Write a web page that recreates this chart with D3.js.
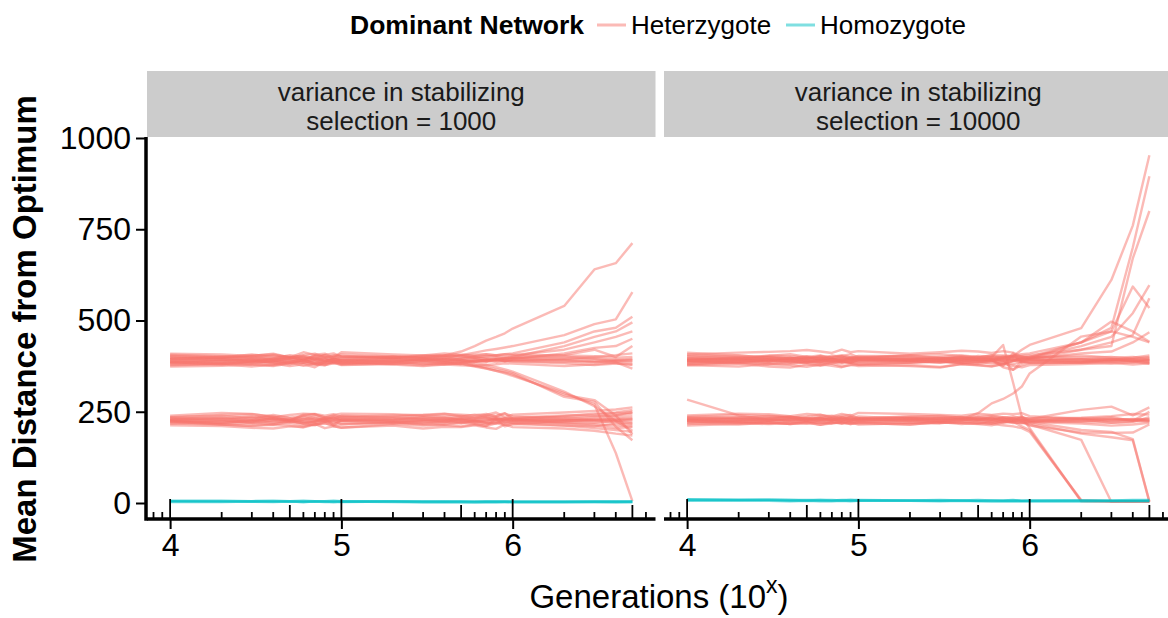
<!DOCTYPE html>
<html>
<head>
<meta charset="utf-8">
<script src="https://cdn.jsdelivr.net/npm/d3@7"></script>
<style>
  html, body { margin: 0; padding: 0; background: #ffffff; }
  svg { display: block; font-family: "Liberation Sans", Arial, Helvetica, sans-serif; }
</style>
</head>
<body>
<svg id="chart" width="1168" height="618"></svg>
<script>
// Sampled generations (x is plotted as log10 of these)
const gens = [10000, 20000, 30000, 40000, 50000, 60000, 70000, 80000, 90000,
              100000, 200000, 300000, 400000, 500000, 600000, 700000, 800000, 900000,
              1000000, 2000000, 3000000, 4000000, 5000000];

const facetLabels = [
  ["variance in stabilizing", "selection = 1000"],
  ["variance in stabilizing", "selection = 10000"]
];
const legendTitle = "Dominant Network";
const seriesNames = ["Heterzygote", "Homozygote"];
const xTicks = [4, 5, 6];
const yTicks = [0, 250, 500, 750, 1000];

// Mean distance from optimum per replicate, variance = 1000
const p1HetUpper = [
  [399,396,402,397,405,400,394,399,404,401,397,402,404,415,430,445,455,465,478,540,640,657,712],
  [383,387,381,389,384,392,386,380,388,393,388,393,398,405,412,418,422,426,430,460,490,503,578],
  [406,402,399,394,399,391,405,401,393,399,402,397,403,405,406,408,404,408,410,440,470,480,510],
  [377,381,386,382,375,380,372,387,383,379,382,377,381,386,390,392,396,396,400,430,455,470,495],
  [394,397,392,389,396,401,393,388,396,390,386,394,396,398,402,400,404,403,405,420,440,455,470],
  [388,384,387,395,390,384,393,398,385,391,395,389,386,390,388,393,391,389,395,410,425,430,450],
  [374,376,379,375,382,385,379,377,386,378,381,386,383,381,386,390,394,398,400,405,420,400,430],
  [409,407,403,409,399,413,406,409,398,413,407,404,410,406,403,407,405,408,406,404,402,398,400],
  [387,393,390,385,393,389,398,390,391,386,394,392,389,393,395,389,392,388,390,392,388,391,390],
  [402,400,404,407,399,404,396,406,410,401,398,405,403,401,399,396,394,390,388,383,378,382,380],
  [383,380,374,379,385,376,381,378,383,386,379,375,379,377,376,378,380,383,382,375,380,385,368],
  [394,399,396,392,398,395,401,389,393,396,399,397,395,388,378,372,366,361,356,291,277,209,172],
  [386,380,388,387,380,392,381,385,390,381,386,382,380,383,376,369,362,355,348,301,270,137,5],
  [396,400,398,404,400,395,402,405,396,403,399,401,400,392,384,378,372,366,360,305,265,225,198],
  [379,383,381,377,387,384,381,383,386,382,388,381,385,381,374,368,362,358,352,296,282,240,188],
  [392,388,395,391,386,397,392,384,401,390,393,389,394,392,388,386,392,396,397,401,395,388,386],
  [398,392,389,396,401,394,390,395,388,392,400,396,391,395,398,394,390,395,392,394,396,392,395],
  [385,389,392,383,387,391,384,389,394,386,383,390,387,384,389,391,386,390,388,386,388,384,378],
  [403,399,407,401,396,405,409,398,403,407,401,399,405,402,398,403,400,396,398,396,400,405,410],
  [390,394,386,391,395,388,384,393,389,384,391,395,390,387,392,388,394,390,393,390,386,389,392]
];
const p1HetLower = [
  [236,239,232,241,234,238,243,235,231,239,236,240,237,239,234,241,248,236,242,248,252,256,262],
  [222,216,220,215,224,218,213,222,226,216,221,217,223,218,225,220,218,228,228,238,245,248,255],
  [228,233,237,232,227,239,233,228,235,238,229,234,230,235,232,237,235,233,232,236,238,240,245],
  [218,215,211,214,212,207,215,219,211,206,216,212,214,210,215,211,218,214,216,224,230,235,238],
  [226,219,224,232,227,223,222,226,230,225,223,228,224,226,225,222,228,227,226,226,228,230,230],
  [239,247,244,235,241,245,243,234,241,245,243,239,244,242,240,244,237,245,238,232,228,226,222],
  [224,215,212,216,219,213,215,218,213,215,221,215,214,220,217,211,230,210,216,212,210,218,215],
  [233,241,243,237,225,242,244,239,243,236,240,242,245,237,242,239,239,246,230,218,212,205,208],
  [227,223,227,228,225,218,222,232,213,228,224,226,228,229,222,227,231,221,220,212,205,200,195],
  [213,211,206,204,210,209,217,205,210,207,212,204,209,208,213,207,203,215,208,204,198,190,185],
  [228,234,224,232,227,234,228,230,234,225,229,235,233,226,229,233,231,228,231,228,226,228,232],
  [224,220,227,220,226,218,224,226,220,228,223,219,218,223,219,216,220,222,224,230,236,240,250],
  [231,227,235,229,223,230,226,233,237,229,232,228,226,232,228,230,226,231,228,226,224,222,218],
  [219,224,221,226,230,224,220,223,218,222,217,223,227,221,224,219,223,218,221,219,216,212,210],
  [234,230,228,236,232,229,237,231,227,233,236,231,234,230,236,234,229,232,234,240,242,246,248],
  [225,228,218,223,221,226,230,224,226,231,227,224,221,229,226,224,233,226,224,222,220,225,228]
];
const p1Homo = [
  [6,6,5,6,5,6,5,5,6,5,5,5,4,5,5,4,5,4,4,4,4,5,4],
  [3,3,4,3,4,3,4,3,3,4,3,2,3,2,2,3,2,3,3,3,3,2,3],
  [5,4,4,4,4,3,4,4,3,3,4,3,3,3,2,3,3,3,2,2,3,3,3]
];

// Mean distance from optimum per replicate, variance = 10000
const p2HetUpper = [
  [393,397,390,395,400,392,396,389,398,394,391,396,393,398,395,399,402,420,433,479,611,760,953],
  [382,387,391,384,388,392,386,390,384,392,388,385,390,387,392,398,404,408,410,440,480,700,895],
  [406,399,403,408,400,404,397,402,408,399,405,408,403,399,405,404,403,403,405,420,430,670,800],
  [377,382,374,371,379,376,382,374,377,379,375,371,381,378,375,380,390,398,400,440,470,593,534],
  [395,392,401,398,394,403,399,402,393,397,404,399,395,403,400,398,399,396,398,430,455,520,597],
  [389,384,380,387,383,378,387,382,385,379,385,387,383,381,387,380,388,393,395,420,440,460,561],
  [407,412,414,416,419,415,411,420,413,416,409,413,417,415,411,416,412,400,396,440,497,470,442],
  [391,396,393,389,385,395,390,388,396,392,391,394,389,394,391,395,390,394,395,410,415,440,468],
  [401,395,404,402,398,396,404,400,397,403,402,396,401,398,404,398,402,398,401,398,400,395,400],
  [380,386,383,380,386,387,382,388,384,381,385,389,383,388,382,386,380,388,383,385,389,394,392],
  [396,392,388,398,390,392,396,388,396,398,391,393,397,390,394,391,397,391,394,388,392,390,386],
  [385,391,393,386,390,383,387,389,383,387,391,389,383,387,390,392,365,388,385,385,390,388,381],
  [412,404,398,394,397,401,393,396,400,395,393,396,398,395,398,392,396,393,397,394,387,385,392],
  [390,387,391,393,387,390,394,386,389,393,391,385,393,391,394,375,410,385,388,392,395,388,396],
  [389,392,387,391,394,389,391,395,392,389,391,395,390,393,400,433,330,236,205,5,4,5,4],
  [392,396,398,394,396,397,393,396,394,397,394,396,399,394,392,372,365,378,384,386,392,398,404],
  [378,374,381,377,373,380,376,372,379,375,378,373,380,377,374,381,376,372,378,381,384,379,383],
  [396,399,393,390,395,398,391,394,390,396,398,392,396,392,389,396,392,390,392,395,393,391,388],
  [386,383,389,392,384,387,392,385,391,386,384,390,387,384,390,385,389,396,390,385,382,386,384],
  [401,404,398,396,402,395,400,405,399,401,397,401,404,400,397,402,399,402,399,404,398,400,396],
  [391,388,394,397,391,386,393,390,387,393,395,390,388,395,392,388,392,385,392,390,394,393,390]
];
const p2HetLower = [
  [283,240,228,231,226,233,227,230,224,229,232,226,230,228,233,226,222,210,200,5,4,5,4],
  [219,215,221,216,220,214,222,217,221,215,219,222,216,220,217,213,210,205,195,8,5,4,5],
  [230,235,232,237,229,234,232,236,231,237,230,233,236,230,234,232,228,222,215,173,3,4,3],
  [226,221,218,223,225,220,224,218,223,221,226,220,222,226,219,224,221,220,218,190,180,172,3],
  [236,241,238,234,237,242,234,239,241,233,236,239,234,238,240,235,232,226,222,200,195,175,4],
  [212,217,221,216,222,214,218,221,216,219,215,222,219,216,213,221,226,236,230,255,264,240,262],
  [229,223,225,230,226,229,231,224,229,225,228,223,231,228,229,227,224,228,225,230,235,225,250],
  [240,245,243,238,244,241,237,244,239,247,244,241,239,245,241,245,243,246,238,230,220,222,235],
  [224,220,216,219,217,222,219,225,219,220,215,222,220,217,223,220,223,218,222,226,226,229,225],
  [231,229,233,236,232,227,234,230,236,230,234,232,230,236,231,227,233,237,222,218,212,215,220],
  [216,224,220,218,224,220,218,221,216,223,220,218,225,220,218,225,219,222,212,193,192,193,215],
  [236,233,239,236,231,236,239,232,236,231,238,236,233,230,236,233,237,231,232,234,238,244,242],
  [226,229,225,228,231,226,227,232,228,230,226,231,229,246,273,285,300,319,355,456,470,455,440],
  [229,233,227,225,230,234,228,226,232,227,231,229,226,233,228,231,226,229,227,229,231,228,230],
  [222,226,230,224,221,227,230,223,226,232,223,227,229,224,226,223,228,225,224,222,220,224,226],
  [233,228,231,234,228,231,225,235,230,228,232,230,234,229,227,235,230,233,230,232,226,230,228],
  [225,222,226,229,234,228,226,229,224,226,229,225,228,231,224,229,231,227,226,224,230,226,223]
];
const p2Homo = [
  [9,8,9,8,7,8,8,7,8,7,7,8,7,8,7,6,7,6,7,7,6,6,6],
  [6,7,6,5,6,5,5,6,5,6,6,5,6,5,4,5,4,5,4,4,5,5,5],
  [10,9,9,8,8,8,7,8,8,8,7,7,7,6,7,7,8,6,6,7,7,8,8]
];

const colHet = "#F8766D";
const colHomo = "#00BFC4";

const svg = d3.select("#chart");

const panelTop = 137, panelBottom = 519;
const panels = [
  { left: 147, right: 655.5, label: facetLabels[0], het: p1HetUpper.concat(p1HetLower), homo: p1Homo },
  { left: 664, right: 1172.5, label: facetLabels[1], het: p2HetUpper.concat(p2HetLower), homo: p2Homo }
];

const logGens = gens.map(g => Math.log10(g));
const [lx0, lx1] = d3.extent(logGens);
const padX = (lx1 - lx0) * 0.05;

const y = d3.scaleLinear().domain([0, 1000]).range([503, 138]);

panels.forEach((p, pi) => {
  const x = d3.scaleLinear().domain([lx0 - padX, lx1 + padX]).range([p.left, p.right]);
  const g = svg.append("g");

  // facet strip
  g.append("rect")
    .attr("x", p.left).attr("y", 71)
    .attr("width", p.right - p.left).attr("height", panelTop - 71)
    .attr("fill", "#cccccc");
  p.label.forEach((t, i) => {
    g.append("text")
      .attr("x", (p.left + p.right) / 2)
      .attr("y", 101 + i * 29)
      .attr("text-anchor", "middle")
      .attr("font-size", 26)
      .attr("fill", "#1a1a1a")
      .text(t);
  });

  const line = d3.line()
    .x((d, i) => x(logGens[i]))
    .y(d => y(d));

  g.append("g").selectAll("path")
    .data(p.het).join("path")
    .attr("d", line)
    .attr("fill", "none")
    .attr("stroke", colHet)
    .attr("stroke-opacity", 0.5)
    .attr("stroke-width", 2.4)
    .attr("stroke-linejoin", "round");

  g.append("g").selectAll("path")
    .data(p.homo).join("path")
    .attr("d", line)
    .attr("fill", "none")
    .attr("stroke", colHomo)
    .attr("stroke-opacity", 0.55)
    .attr("stroke-width", 2.6)
    .attr("stroke-linejoin", "round");

  // log ticks along the bottom edge
  const lt = [];
  for (let d = 3; d <= 7; d++) {
    for (let k = 1; k <= 9; k++) {
      const v = Math.log10(k * Math.pow(10, d));
      if (v >= lx0 - padX && v <= lx1 + padX) lt.push({ v, k });
    }
  }
  g.append("g").selectAll("line")
    .data(lt).join("line")
    .attr("x1", d => x(d.v)).attr("x2", d => x(d.v))
    .attr("y1", panelBottom)
    .attr("y2", d => panelBottom - (d.k === 1 ? 20 : d.k === 5 ? 14 : 7))
    .attr("stroke", "#000").attr("stroke-width", 1.8);

  // x axis
  const xAxis = d3.axisBottom(x).tickValues(xTicks).tickSize(10).tickSizeOuter(0).tickPadding(4)
    .tickFormat(d3.format("d"));
  const ax = g.append("g").attr("transform", `translate(0,${panelBottom})`).call(xAxis);
  ax.select(".domain").remove();
  ax.selectAll(".tick line").attr("stroke", "#000").attr("stroke-width", 2);
  ax.selectAll(".tick text").attr("font-size", 32).attr("fill", "#000")
    .attr("font-family", "Liberation Sans, Arial, sans-serif").attr("y", 14).attr("dy", "0.71em");
  g.append("line")
    .attr("x1", p.left).attr("x2", p.right)
    .attr("y1", panelBottom).attr("y2", panelBottom)
    .attr("stroke", "#000").attr("stroke-width", 3.5);

  if (pi === 0) {
    const yAxis = d3.axisLeft(y).tickValues(yTicks).tickSize(10).tickPadding(5)
      .tickFormat(d3.format("d"));
    const ay = g.append("g").attr("transform", `translate(${p.left - 1},0)`).call(yAxis);
    ay.select(".domain").remove();
    ay.selectAll(".tick line").attr("stroke", "#000").attr("stroke-width", 2);
    ay.selectAll(".tick text").attr("font-size", 32).attr("fill", "#000")
      .attr("font-family", "Liberation Sans, Arial, sans-serif");
    g.append("line")
      .attr("x1", p.left - 1).attr("x2", p.left - 1)
      .attr("y1", panelTop).attr("y2", panelBottom + 1.75)
      .attr("stroke", "#000").attr("stroke-width", 3.5);
  }
});

// axis titles
svg.append("text")
  .attr("transform", "translate(36,329) rotate(-90)")
  .attr("text-anchor", "middle")
  .attr("font-size", 33)
  .attr("font-weight", "bold")
  .attr("fill", "#000")
  .text("Mean Distance from Optimum");

const xt = svg.append("text")
  .attr("x", 659).attr("y", 608)
  .attr("text-anchor", "middle")
  .attr("font-size", 33)
  .attr("fill", "#000");
xt.append("tspan").text("Generations (10");
xt.append("tspan").attr("font-size", 23).attr("dy", -15).text("x");
xt.append("tspan").attr("dy", 15).text(")");

// legend
const lg = svg.append("g");
lg.append("text")
  .attr("x", 350).attr("y", 34)
  .attr("font-size", 26.5).attr("font-weight", "bold").attr("fill", "#000")
  .text(legendTitle);
const keys = [
  { name: seriesNames[0], color: colHet, x0: 597, tx: 631 },
  { name: seriesNames[1], color: colHomo, x0: 786, tx: 820 }
];
keys.forEach(k => {
  lg.append("line")
    .attr("x1", k.x0).attr("x2", k.x0 + 29)
    .attr("y1", 25).attr("y2", 25)
    .attr("stroke", k.color).attr("stroke-opacity", 0.5).attr("stroke-width", 3);
  lg.append("text")
    .attr("x", k.tx).attr("y", 34)
    .attr("font-size", 26).attr("fill", "#000")
    .text(k.name);
});
</script>
</body>
</html>
